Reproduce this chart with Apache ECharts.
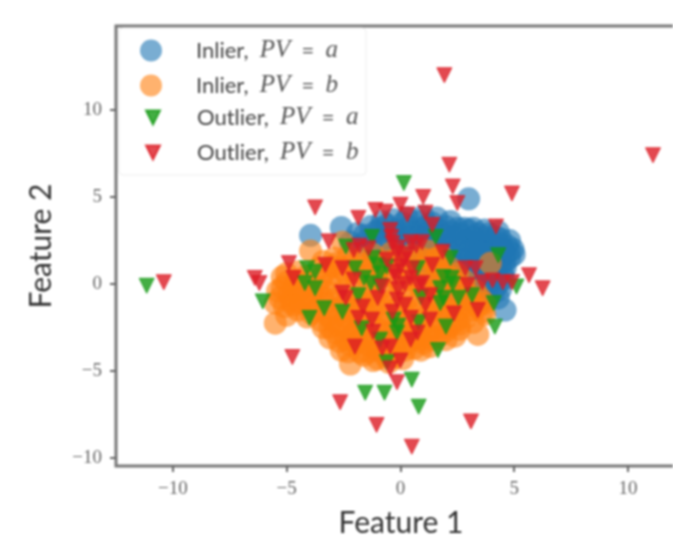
<!DOCTYPE html>
<html><head><meta charset="utf-8">
<style>html,body{margin:0;padding:0;background:#fff;overflow:hidden}#c{width:673px;height:539px;filter:blur(1.1px)}</style>
<script src="https://cdn.jsdelivr.net/npm/echarts@6/dist/echarts.min.js"></script>
</head><body><div id="c"></div>
<script>
const inlierA=[[3.0,4.9],[-3.95,2.8],[-2.6,3.25],[4.6,-1.5],
[-0.6,3.4],[0.1,3.5],[0.8,3.6],[1.4,3.5],[2.0,3.3],[2.5,3.2],
[-1.9,2.9],[-1.1,3.0],[-0.3,2.9],[0.5,3.0],[1.2,2.9],[1.9,2.8],[2.6,2.9],[3.2,2.7],
[-2.2,2.4],[-1.5,2.5],[-0.7,2.4],[0.2,2.5],[0.9,2.3],[1.7,2.4],[2.4,2.3],[3.1,2.4],[3.8,2.5],[4.4,2.3],
[-1.2,1.9],[-0.2,2.0],[0.7,1.8],[1.5,1.9],[2.2,1.8],[3.0,1.9],[3.6,2.0],[4.3,1.8],[4.95,2.0],
[0.4,1.4],[1.2,1.3],[2.0,1.4],[2.8,1.4],[3.5,1.5],[4.1,1.3],[4.8,1.5],
[0.8,0.9],[1.7,0.8],[2.5,0.9],[3.2,1.0],[3.9,0.8],[4.6,0.9],
[1.5,0.3],[2.4,0.3],[3.3,0.4],[4.0,0.2],[4.55,0.3],
[2.2,-0.3],[3.1,-0.3],[3.8,-0.4],[4.4,-0.3],
[3.0,-0.9],[3.7,-0.9],[4.3,-0.8],
[-0.2,3.1],[1.0,3.2],[1.7,3.1],[2.3,2.7],[2.9,2.5],[3.5,2.3],[4.1,2.1],[4.6,1.7],[3.3,1.7],[3.8,1.2],[4.4,1.1],[2.9,0.7],[3.6,0.6],[4.2,0.5],[2.7,1.1],[3.0,3.1],[1.5,2.4],[0.4,2.7],[3.7,2.7],[4.4,2.6],[4.7,2.2],[4.6,1.3],[4.3,0.0],
[-0.9,3.2],[0.4,3.3],[1.2,3.4],[2.2,3.0],[2.8,3.2],[3.4,2.9],[3.9,2.9],[4.2,2.7],[-1.6,2.8],[-0.5,2.7],[0.8,2.7],[1.4,2.7],[2.0,2.2],[2.7,2.1],[3.3,2.1],[4.0,1.6],[4.5,2.0],[4.8,1.9],[1.8,1.1],[2.3,1.1],[3.0,1.3],[3.4,0.8],[4.2,0.9],[4.5,0.6],[3.7,0.2],[3.4,-0.2],[4.1,-0.5],[3.6,1.8],[2.5,1.6],[1.0,1.6],[0.1,2.2],[-0.9,2.1],[-1.8,2.2],
[0.3,3.8],[1.0,3.9],[1.6,3.8],[2.2,3.6],[-0.3,3.7],[3.2,3.2],[3.7,3.1],[4.3,3.0],[4.8,2.5],[5.0,1.7],[-1.3,3.3],[-0.8,3.6]];
const inlierB=[[-3.95,1.9],[-2.55,2.4],[3.95,1.2],[-5.5,-2.25],[-2.2,-4.6],[3.4,-2.9],[3.7,-1.75],[2.6,-2.6],
[-1.2,1.7],[-0.4,1.8],[0.5,1.7],[1.2,1.9],[1.8,1.6],
[-3.0,1.0],[-2.2,1.1],[-1.5,0.9],[-0.8,1.0],[0.1,1.1],[0.9,0.9],[1.6,1.0],[2.2,0.9],
[-5.2,0.4],[-4.2,0.4],[-3.5,0.3],[-2.7,0.4],[-1.9,0.2],[-1.1,0.3],[-0.3,0.4],[0.6,0.2],[1.4,0.3],[2.2,0.4],[2.8,0.2],
[-5.4,-0.4],[-4.7,-0.3],[-3.9,-0.4],[-3.1,-0.5],[-2.4,-0.3],[-1.5,-0.4],[-0.6,-0.5],[0.2,-0.3],[1.1,-0.4],[1.9,-0.5],[2.7,-0.3],[3.3,-0.4],
[-5.5,-1.1],[-4.8,-1.0],[-4.1,-1.2],[-3.3,-1.1],[-2.5,-1.2],[-1.7,-1.0],[-0.9,-1.1],[0.0,-1.2],[0.8,-1.0],[1.6,-1.1],[2.4,-1.2],[3.1,-1.0],[3.7,-1.1],
[-5.0,-1.8],[-4.1,-1.9],[-3.2,-1.8],[-2.4,-1.9],[-1.5,-1.7],[-0.6,-1.8],[0.3,-1.9],[1.2,-1.7],[2.0,-1.8],[2.9,-1.9],[3.6,-1.6],
[-3.4,-2.5],[-2.7,-2.4],[-1.9,-2.6],[-1.1,-2.5],[-0.2,-2.4],[0.7,-2.6],[1.5,-2.5],[2.2,-2.4],
[-3.1,-3.1],[-2.4,-3.2],[-1.6,-3.1],[-0.8,-3.2],[0.1,-3.1],[0.9,-3.2],[1.7,-3.0],[2.4,-3.0],
[-2.6,-3.8],[-1.8,-3.9],[-1.0,-3.8],[-0.2,-3.9],[0.6,-3.7],[1.3,-3.6],
[-1.2,-4.4],[-0.5,-4.5],[0.1,-4.3],
[-4.6,0.2],[-4.9,-0.6],[-4.3,-0.8],[-3.6,-0.2],[-3.7,-1.5],[-4.5,-1.5],[-2.8,-0.8],[-2.9,-1.5],[-2.0,-0.8],[-2.0,-1.5],[-1.2,-0.7],[-1.2,-1.5],[-0.3,-0.9],[-0.2,-1.5],[0.5,-0.7],[0.7,-1.5],[1.4,-0.8],[1.7,-1.5],[2.3,-0.8],[2.5,-1.5],[3.2,-1.5],
[-2.6,0.9],[-2.0,0.7],[-1.3,1.3],[-0.5,1.3],[0.4,1.3],[1.3,1.4],[1.9,0.6],[2.5,0.6],[-3.0,-2.1],[-2.1,-2.2],[-1.4,-2.1],[-0.6,-2.3],[0.1,-2.2],[1.0,-2.2],[1.8,-2.2],[2.5,-2.1],[3.2,-2.2],[-2.9,-2.8],[-2.1,-2.9],[-1.4,-2.9],[-0.5,-2.8],[0.4,-2.9],[1.2,-2.9],[2.0,-2.7],[-2.2,-3.5],[-1.4,-3.5],[-0.6,-3.5],[0.3,-3.4],[1.0,-3.4],[-1.6,-4.1],[-0.7,-4.1],
[-5.0,0.1],[-5.2,-0.2],[-5.3,-0.8],[-5.1,-1.3],[-4.7,-1.2],[-4.4,-0.3],[-4.1,0.1],[-3.8,-0.9],[-3.4,-0.8],[-3.1,0.0],[-3.3,0.7],[-2.4,0.6],[-1.6,0.5],[-0.7,0.7],[0.2,0.7],[1.0,0.6],[1.7,0.1],[2.5,0.0],[3.0,-0.6],[3.5,-0.8],[-4.4,-1.1],[-3.9,-1.7],[-3.5,-2.1],[-2.6,-1.6],[-1.8,-1.9],[-0.9,-1.5],[0.3,-1.5],[1.4,-1.4],[2.2,-1.5],[2.8,-1.3],[3.4,-1.3],[-3.1,-2.5],[-2.4,-2.5],[-1.7,-2.3],[-0.8,-2.7],[0.0,-2.7],[0.9,-2.5],[1.8,-2.5],[2.6,-2.3],[-2.7,-3.3],[-1.9,-3.4],[-1.1,-3.3],[-0.3,-3.3],[0.6,-3.1],[1.4,-3.2],[2.0,-3.2],[-2.3,-3.9],[-1.4,-3.9],[-0.6,-3.9],[0.2,-3.8],[0.9,-3.8],[-1.0,-4.3],[-0.3,-4.2],[-2.3,-0.7],[-1.6,-0.8],[-0.8,-0.2],[0.0,0.1],[0.9,-0.2],[1.6,-0.3],[-1.0,0.8],[-0.1,1.5],[0.9,1.5],[1.6,1.5],
[-3.4,1.3],[-2.9,1.5],[-2.3,1.6],[-1.7,1.5],[-3.6,0.9],[-4.5,0.7],[-5.0,0.6],[-2.8,1.2],[-2.0,1.3]];
const outlierA=[[-11.15,-0.1],[0.15,5.8],[-1.25,2.7],[1.55,2.7],[-2.4,2.15],[-1.2,1.5],[2.2,1.5],[4.3,1.65],[-4.1,0.9],[-3.75,0.7],[-4.2,0.05],[-3.75,-0.25],[-6.05,-1],[-3.35,-1.4],[-4,-1.95],[-2.55,-1.6],[-2,0.9],[-1.6,0.35],[-0.9,0.6],[-0.6,1],[-1.3,0.05],[-1.85,-0.65],[0.75,0.9],[1.9,0.4],[2.25,0.35],[1.75,-0.25],[2.55,-0.8],[3.15,-0.65],[1.75,-1.1],[0.9,-0.75],[4.1,-1.1],[5.1,-0.15],[4.15,-2.45],[2,-2.45],[0.8,-2.2],[-0.3,-2.05],[-0.15,-2.8],[-1.7,-2.55],[-0.9,-3.2],[1.65,-3.8],[-0.6,-4.5],[0.5,-5.5],[-1.55,-6.25],[-0.7,-6.25],[0.8,-7.05],[-1.0,1.1],[-0.9,-0.1],[1.9,-0.8],[2.3,0.0],[-0.1,-2.4]];
const outlierB=[[1.93,12],[11.1,7.4],[-10.4,0.1],[2.15,6.85],[2.3,5.6],[4.9,5.2],[-3.75,4.4],[-4.75,-4.2],[-2.65,-6.8],[-1.05,-8.1],[0.5,-9.35],[3.1,-7.9],[6.25,-0.25],[5.65,0.5],[-6.4,0.35],[-6.2,0.05],[-4.9,1.2],[-1.85,3.8],[-1.1,4.25],[-0.65,4.15],[0,4.55],[0.3,4],[1.1,4.1],[1.4,3.4],[1,5],[2.5,4.65],[4.2,3.3],[-3.15,2.45],[-4.7,0.35],[-3.3,1.1],[-2.55,0.9],[-2.05,1.95],[-1.4,2.05],[-0.45,3.1],[-0.35,2.35],[-0.15,1.8],[0,1],[0.45,2.4],[0.95,2.4],[1.85,1.85],[1.4,1.1],[2.85,0.9],[3.3,0.9],[4.05,0.2],[4.5,0.1],[4.9,0.1],[2.95,-0.05],[-2.05,0.25],[-2.55,-0.5],[-2.4,-0.8],[-1,-0.8],[-0.8,-0.15],[-0.2,0.4],[0.45,0.35],[0.95,0.05],[1.3,-0.65],[1.1,-1.2],[-0.15,-0.9],[0.2,-1.2],[-0.35,-1.6],[-1.65,-1.3],[-1.85,-1.95],[-1.25,-2.05],[-1.2,-2.75],[0.45,-1.95],[1.3,-2.05],[2.35,-1.7],[3.4,-1.5],[0.75,-2.8],[0.45,-3.2],[-2,-3.6],[-0.8,-3.7],[-0.45,-3.6],[0,-4.4],[-0.45,-4.85],[-0.15,-5.65],[0.15,1.4],[-0.25,0.7],[0.2,0.0],[-0.1,-0.3],[0.8,-0.1],[-0.4,2.7],[-0.1,2.1],[0.3,1.7],[-0.6,1.4],[0.5,0.9],[3.6,0.1],[-1.8,2.2],[0.7,2.2]];
const xRange=[-12.5,12.55], yRange=[-10.46,14.83];
const xTicks=[-10,-5,0,5,10], yTicks=[-10,-5,0,5,10];
const names=['Inlier, a','Inlier, b','Outlier, a','Outlier, b'];
const labels={'Inlier, a':'Inlier,  {i|PV}  =  {i|a}','Inlier, b':'Inlier,  {i|PV}  =  {i|b}','Outlier, a':'Outlier,  {i|PV}  =  {i|a}','Outlier, b':'Outlier,  {i|PV}  =  {i|b}'};
const tick=v=>String(v).replace('-','\u2212');
const legendText=p=>({color:'#444',fontFamily:'Lato, Liberation Sans, sans-serif',fontSize:22,lineHeight:24,padding:[0,0,0,p],rich:{i:{fontFamily:'Liberation Serif',fontStyle:'italic',fontSize:25,lineHeight:24,color:'#555'}}});
const axisParts=(vals)=>({splitLine:{show:false},axisLine:{show:false,onZero:false},
  axisTick:{show:true,length:6,lineStyle:{color:'#666',width:2},customValues:vals},
  axisLabel:{margin:14,color:'#666',fontFamily:'Liberation Serif',fontSize:19,formatter:tick,customValues:vals}});
const ch=echarts.init(document.getElementById('c'));
ch.setOption({
 animation:false,backgroundColor:'#fff',
 grid:{left:116,top:26,width:570,height:440,outerBoundsMode:'none',show:true,borderColor:'#777',borderWidth:3,backgroundColor:'transparent'},
 xAxis:Object.assign({type:'value',min:xRange[0],max:xRange[1],name:'Feature 1',nameLocation:'middle',nameGap:42,nameTextStyle:{fontFamily:'Lato, Liberation Sans',fontSize:30,color:'#333'}},axisParts(xTicks)),
 yAxis:Object.assign({type:'value',min:yRange[0],max:yRange[1],name:'Feature 2',nameLocation:'middle',nameGap:60,nameTextStyle:{fontFamily:'Lato, Liberation Sans',fontSize:30,color:'#333'}},axisParts(yTicks)),
 legend:[
  {data:names.slice(0,2),orient:'vertical',left:119,top:28,itemWidth:22,itemHeight:22,itemGap:10,
   padding:[10,28,77,21],backgroundColor:'rgba(255,255,255,0.85)',borderColor:'#eee',borderWidth:1,borderRadius:4,
   formatter:n=>labels[n],textStyle:legendText(29)},
  {data:names.slice(2),orient:'vertical',left:145,top:105,itemWidth:14,itemHeight:14,itemGap:10,padding:0,icon:'path://M0 0L10 0L5 10Z',
   formatter:n=>labels[n],textStyle:legendText(32)}
 ],
 series:[
  {name:names[0],type:'scatter',data:inlierA,symbol:'circle',symbolSize:23,itemStyle:{color:'#1f77b4',opacity:0.6}},
  {name:names[1],type:'scatter',data:inlierB,symbol:'circle',symbolSize:23,itemStyle:{color:'#ff7f0e',opacity:0.6}},
  {name:names[2],type:'scatter',data:outlierA,symbol:'triangle',symbolRotate:180,symbolSize:15,itemStyle:{color:'#149a14',borderColor:'#149a14',borderWidth:1}},
  {name:names[3],type:'scatter',data:outlierB,symbol:'triangle',symbolRotate:180,symbolSize:15,itemStyle:{color:'#dc1c24',borderColor:'#dc1c24',borderWidth:1}}
 ]
});
</script></body></html>
